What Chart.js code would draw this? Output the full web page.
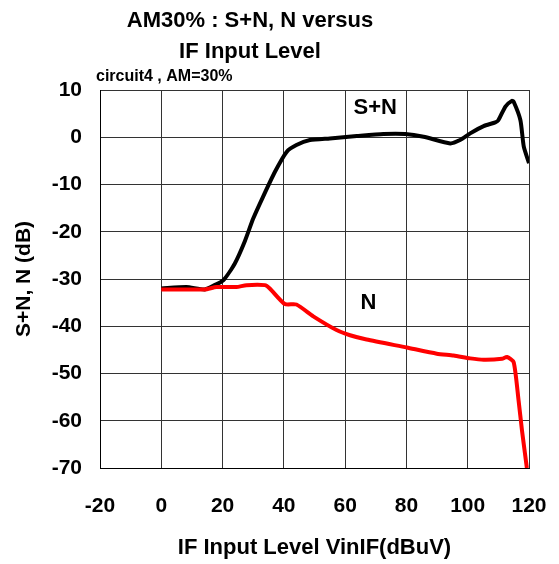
<!DOCTYPE html>
<html>
<head>
<meta charset="utf-8">
<script src="https://cdn.jsdelivr.net/npm/chart.js@4/dist/chart.umd.min.js"></script>
<style>
  html, body { margin: 0; padding: 0; background: #fff; }
  #wrap { width: 559px; height: 564px; }
</style>
</head>
<body>
<div id="wrap"><canvas id="amChart" width="559" height="564"></canvas></div>
<script>
// S+N curve (black)
const snX = [0, 8.2, 14.2, 17.4, 20.2, 24, 27.2, 30, 33.2, 37.1, 40.9, 44.1, 48.5, 55, 63.8, 72.5, 79.6, 85.6, 94.3, 97.5, 100.8, 105.2, 109, 110, 112.3, 114.4, 115, 117.2, 118.3, 120];
const snY = [-32, -31.7, -32.2, -31.3, -30.3, -26.7, -22.1, -17.2, -12.6, -7.3, -3.1, -1.65, -0.6, -0.24, 0.25, 0.68, 0.68, 0.11, -1.3, -0.6, 0.82, 2.37, 3.15, 3.6, 6.5, 7.7, 7.5, 3.6, -2.0, -5.5];

// N curve (red)
const nX = [0, 5, 14.2, 18, 24.5, 27.8, 33.8, 35.4, 40.3, 44.1, 49.6, 57.2, 61.6, 67, 80.1, 89.9, 95.4, 100.8, 105.2, 111.2, 112.8, 115, 116.6, 117.7, 119.3];
const nY = [-32.2, -32.2, -32.2, -31.7, -31.7, -31.3, -31.3, -32, -35.3, -35.4, -37.9, -40.8, -41.9, -42.8, -44.5, -45.8, -46.2, -46.8, -47.1, -46.9, -46.5, -47.6, -55.7, -62, -70];

const xTicks = [-20, 0, 20, 40, 60, 80, 100, 120];
const yTicks = [10, 0, -10, -20, -30, -40, -50, -60, -70];

const titleLines = ['AM30% : S+N, N versus', 'IF Input Level'];
const subTitle = 'circuit4 , AM=30%';
const seriesLabels = [
  { text: 'S+N', x: 69.8, y: 6.1 },
  { text: 'N', x: 67.6, y: -35 }
];

const FONT = 'Arial, "Liberation Sans", sans-serif';

const toPoints = (xs, ys) => xs.map((x, i) => ({ x, y: ys[i] }));

// titles and the two in-plot labels
const textPlugin = {
  id: 'texts',
  afterDraw(chart) {
    const c = chart.ctx;
    const xs = chart.scales.x, ys = chart.scales.y;
    c.save();
    c.fillStyle = '#000';
    c.textBaseline = 'middle';
    c.textAlign = 'center';
    c.font = 'bold 22px ' + FONT;
    c.fillText(titleLines[0], 250, 21);
    c.fillText(titleLines[1], 250, 52);
    c.textAlign = 'left';
    c.font = 'bold 16px ' + FONT;
    c.fillText(subTitle, 96, 77);
    c.textAlign = 'center';
    c.font = 'bold 22px ' + FONT;
    seriesLabels.forEach(l => {
      c.fillText(l.text, xs.getPixelForValue(l.x), ys.getPixelForValue(l.y));
    });
    c.restore();
  }
};

new Chart(document.getElementById('amChart'), {
  type: 'scatter',
  data: {
    datasets: [
      {
        label: 'S+N',
        data: toPoints(snX, snY),
        showLine: true,
        borderColor: '#000',
        borderWidth: 4,
        pointRadius: 0,
        tension: 0.2,
        order: 1
      },
      {
        label: 'N',
        data: toPoints(nX, nY),
        showLine: true,
        borderColor: '#ff0000',
        borderWidth: 4,
        pointRadius: 0,
        tension: 0.2,
        order: 0
      }
    ]
  },
  options: {
    responsive: false,
    animation: false,
    layout: { padding: { top: 90, right: 30, left: 0, bottom: 0 } },
    plugins: {
      legend: { display: false },
      tooltip: { enabled: false }
    },
    scales: {
      x: {
        type: 'linear',
        min: -20,
        max: 120,
        afterBuildTicks: s => { s.ticks = xTicks.map(v => ({ value: v })); },
        afterFit: s => { s.height = 96; s.paddingLeft = 0; s.paddingRight = 0; },
        ticks: { color: '#000', font: { family: FONT, size: 21, weight: 'bold' }, padding: 26, maxRotation: 0 },
        grid: { color: '#333', lineWidth: 1, drawTicks: false, tickLength: 0 },
        border: { color: '#000', width: 1 },
        title: {
          display: true,
          text: 'IF Input Level VinIF(dBuV)',
          color: '#000',
          font: { family: FONT, size: 22, weight: 'bold' },
          padding: { top: 0, bottom: 3 }
        }
      },
      y: {
        type: 'linear',
        min: -70,
        max: 10,
        afterBuildTicks: s => { s.ticks = yTicks.map(v => ({ value: v })); },
        afterFit: s => { s.width = 100; s.paddingTop = 0; s.paddingBottom = 0; },
        ticks: { color: '#000', font: { family: FONT, size: 21, weight: 'bold' }, padding: 18 },
        grid: { color: '#333', lineWidth: 1, drawTicks: false, tickLength: 0 },
        border: { color: '#000', width: 1 },
        title: {
          display: true,
          text: 'S+N, N (dB)',
          color: '#000',
          font: { family: FONT, size: 21, weight: 'bold' },
          padding: { top: 12, bottom: 0 }
        }
      }
    }
  },
  plugins: [textPlugin]
});
</script>
</body>
</html>
